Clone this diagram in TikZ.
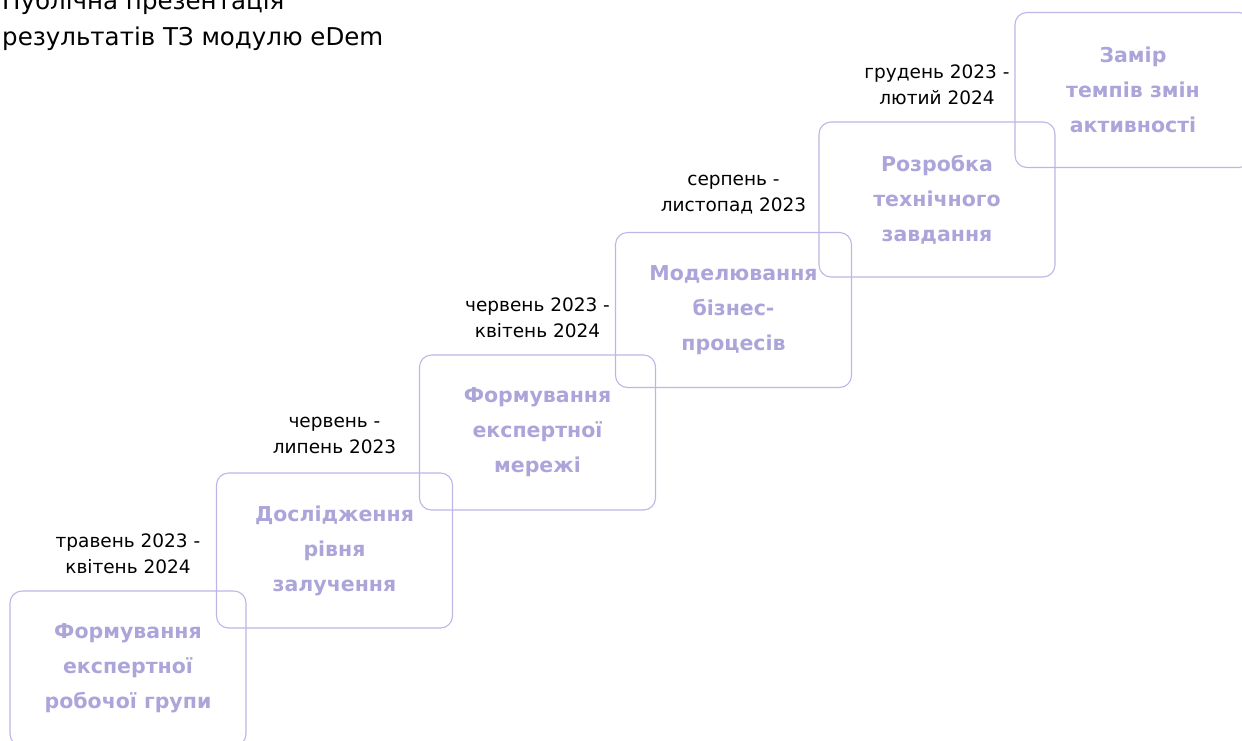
\documentclass[tikz,border=0pt]{standalone}
\usepackage{fontspec}
\setmainfont{DejaVu Sans}
\definecolor{boxline}{HTML}{BCB6E6}
\definecolor{boxtext}{HTML}{ABA5DA}
\tikzset{
  stage/.style={draw=boxline, line width=1.1pt, rounded corners=12pt,
    minimum width=236pt, minimum height=155pt, inner sep=0pt,
    text=boxtext, align=center, font=\fontsize{20.5}{35}\selectfont\bfseries},
  period/.style={align=center, inner sep=0pt, text=black,
    font=\fontsize{18.5}{26}\selectfont},
  titletext/.style={anchor=north west, align=left, inner sep=0pt,
    font=\fontsize{24.5}{36}\selectfont}
}
\begin{document}
\begin{tikzpicture}[x=1pt,y=-1pt]
\useasboundingbox (0,0) rectangle (1242,740);
\clip (0,0) rectangle (1242,740);
\node[titletext] (title) at (2,-10) {Публічна презентація\\результатів ТЗ модулю eDem};

\node[stage] (b1) at (128,668.5) {Формування\\експертної\\робочої групи};
\node[stage] (b2) at (334.5,550.5) {Дослідження\\рівня\\залучення};
\node[stage] (b3) at (537.5,432.5) {Формування\\експертної\\мережі};
\node[stage] (b4) at (733.5,310) {Моделювання\\бізнес-\\процесів};
\node[stage] (b5) at (937,199.5) {Розробка\\технічного\\завдання};
\node[stage] (b6) at (1133,90) {Замір\\темпів змін\\активності};

\node[period] (p1) at ([yshift=37pt]b1.north) {травень 2023 -\\квітень 2024};
\node[period] (p2) at ([yshift=37pt]b2.north) {червень -\\липень 2023};
\node[period] (p3) at ([yshift=37pt]b3.north) {червень 2023 -\\квітень 2024};
\node[period] (p4) at ([yshift=37pt]b4.north) {серпень -\\листопад 2023};
\node[period] (p5) at ([yshift=37pt]b5.north) {грудень 2023 -\\лютий 2024};
\end{tikzpicture}
\end{document}
